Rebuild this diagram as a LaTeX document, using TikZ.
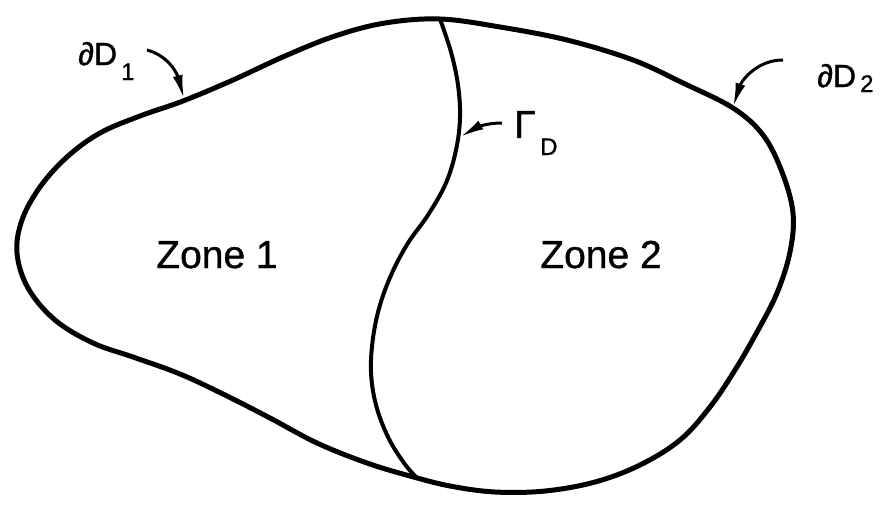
\documentclass[tikz,border=0pt]{standalone}
\usepackage{fontspec}
\setmainfont{Liberation Sans}
\newfontfamily\labelfont{Liberation Sans}[FakeBold=1]
\usetikzlibrary{arrows.meta}
\begin{document}
\begin{tikzpicture}[x=1pt,y=1pt,
  boundary/.style={line width=5pt, line join=round},
  interface/.style={line width=4pt, line cap=round},
  pointer/.style={line width=3pt, -{Latex[length=24pt,width=10pt]}},
  zonelabel/.style={font=\labelfont\fontsize{39}{39}\selectfont, inner sep=0pt, anchor=base},
  bigsym/.style={font=\labelfont\fontsize{32}{32}\selectfont, inner sep=0pt, anchor=base west},
  smallsym/.style={font=\labelfont\fontsize{24}{24}\selectfont, inner sep=0pt, anchor=base west}]
\useasboundingbox (0,0) rectangle (895,-507);
% outer boundary
\draw[boundary] plot[smooth cycle, tension=0.6] coordinates {
 (440,-19) (500,-27) (567,-40) (633,-60) (683,-83) (733,-108) (763,-135)
 (782,-172) (793,-213) (790,-252) (777,-293) (757,-332) (735,-370) (710,-407)
 (680,-440) (640,-465) (595,-482) (545,-491) (495,-492) (450,-486) (410,-476)
 (367,-463) (317,-443) (270,-418) (225,-395) (180,-374) (133,-357) (93,-343)
 (55,-320) (28,-288) (17,-253) (22,-220) (40,-187) (67,-157) (100,-133)
 (140,-116) (183,-101) (233,-80) (285,-56) (335,-36) (385,-23)};
% interface Gamma_D
\draw[interface] plot[smooth, tension=0.6] coordinates {
 (440,-19) (451,-52) (458,-85) (460,-118) (456,-150) (446,-183) (428,-215)
 (408,-243) (392,-273) (380,-305) (373,-338) (371,-372) (376,-405) (388,-437)
 (404,-463) (417,-478)};
% anchor points on the curves
\coordinate (tipA) at (184,-99);
\coordinate (tipB) at (733,-107);
\coordinate (tipG) at (460,-137);
% labels
\node[bigsym] (dD1) at (78,-65) {∂D};
\node[smallsym] (sub1) at (121,-80) {1};
\node[bigsym] (dD2) at (817,-87) {∂D};
\node[smallsym] (sub2) at (860,-92) {2};
\node[font=\labelfont\fontsize{39}{39}\selectfont, inner sep=0pt, anchor=base west] (gam) at (514,-138) {Γ};
\node[smallsym] (subD) at (540,-155) {D};
\node[zonelabel] (z1) at (217,-268) {Zone 1};
\node[zonelabel] (z2) at (601,-268) {Zone 2};
% pointers
\coordinate (startA) at (147,-50);
\coordinate (startB) at (783,-60);
\coordinate (startG) at (502,-123);
\draw[pointer] (startA) to[out=-15,in=105] (tipA);
\draw[pointer] (startB) to[out=180,in=72] (tipB);
\draw[pointer] (startG) to[out=180,in=30] (tipG);
\end{tikzpicture}
\end{document}
